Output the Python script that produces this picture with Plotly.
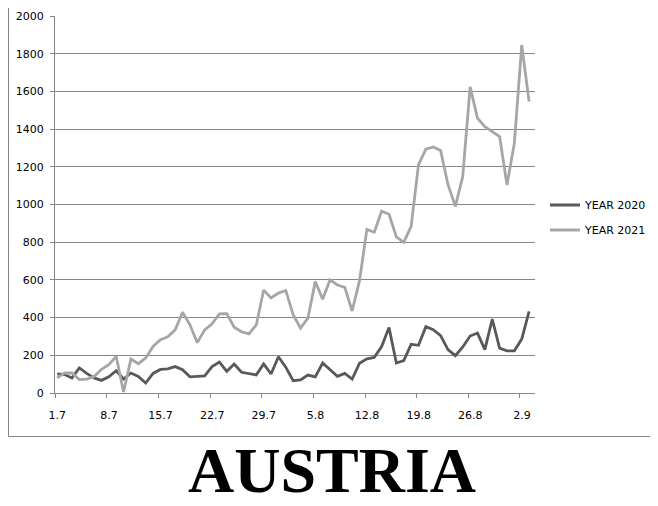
import plotly.graph_objects as go

dates = ["1.7","2.7","3.7","4.7","5.7","6.7","7.7","8.7","9.7","10.7","11.7","12.7","13.7","14.7","15.7","16.7",
         "17.7","18.7","19.7","20.7","21.7","22.7","23.7","24.7","25.7","26.7","27.7","28.7","29.7","30.7","31.7",
         "1.8","2.8","3.8","4.8","5.8","6.8","7.8","8.8","9.8","10.8","11.8","12.8","13.8","14.8","15.8","16.8",
         "17.8","18.8","19.8","20.8","21.8","22.8","23.8","24.8","25.8","26.8","27.8","28.8","29.8","30.8","31.8",
         "1.9","2.9","3.9"]

year_2020 = [101, 98, 80, 133, 104, 80, 67, 86, 118, 74, 106, 88, 53, 104, 125, 128, 140, 124, 86, 87, 91, 140,
             164, 115, 154, 110, 101, 96, 154, 101, 192, 137, 65, 69, 95, 85, 159, 124, 88, 104, 74, 158, 181, 189,
             246, 347, 159, 172, 258, 253, 352, 336, 304, 230, 198, 244, 302, 318, 230, 392, 238, 224, 224, 286, 433]

year_2021 = [80, 106, 106, 71, 74, 88, 125, 150, 194, 5, 180, 155, 186, 247, 283, 298, 335, 428, 362, 267, 335,
             367, 420, 421, 349, 325, 314, 361, 546, 504, 530, 544, 415, 344, 397, 591, 498, 600, 573, 560, 435,
             596, 868, 853, 965, 948, 828, 799, 884, 1211, 1294, 1305, 1287, 1105, 990, 1149, 1624, 1458, 1413,
             1387, 1360, 1104, 1325, 1846, 1546]

tick_labels = ["1.7", "8.7", "15.7", "22.7", "29.7", "5.8", "12.8", "19.8", "26.8", "2.9"]
series_names = ["YEAR 2020", "YEAR 2021"]
title_text = "AUSTRIA"

idx = list(range(len(dates)))
tick_pos = [dates.index(t) - 0.25 for t in tick_labels]

fig = go.Figure()
fig.add_trace(go.Scatter(x=idx, y=year_2020, mode="lines", name=series_names[0], legendgroup="a",
                         line=dict(color="#595959", width=2.8), text=dates, hoverinfo="text+y"))
fig.add_trace(go.Scatter(x=idx, y=year_2021, mode="lines", name=series_names[1], legendgroup="b",
                         line=dict(color="#A6A6A6", width=2.8), text=dates, hoverinfo="text+y"))

grid = "#868686"

# page coordinates (window pixels) -> paper coordinates of the plot area
PL, PW, PB, PH = 55.0, 480.0, 393.0, 377.0
def px(x):
    return (x - PL) / PW
def py(y):
    return (PB - y) / PH

border_left, border_right, border_bottom, border_top = 8.5, 654.5, 436.5, 8.0

fig.update_layout(
    width=650, height=498,
    margin=dict(l=47, r=123, t=8, b=113, autoexpand=False),
    paper_bgcolor="white", plot_bgcolor="white",
    font=dict(family="DejaVu Sans", size=11, color="black"),
    showlegend=True,
    legend=dict(x=px(545), xanchor="left", y=py(217.5), yanchor="middle",
                font=dict(family="DejaVu Sans", size=11, color="black"),
                bgcolor="rgba(0,0,0,0)", traceorder="grouped", tracegroupgap=6, itemwidth=30),
    xaxis=dict(range=[-0.3, 64.8], tickmode="array", tickvals=tick_pos, ticktext=tick_labels,
               showgrid=False, zeroline=False, showline=True, linecolor=grid, linewidth=1,
               ticks="outside", ticklen=4, tickcolor=grid, ticklabelshift=2, ticklabelstandoff=8,
               fixedrange=True, automargin=False),
    yaxis=dict(range=[0, 2000], dtick=200, tick0=0, showgrid=True, gridcolor=grid, gridwidth=1,
               zeroline=False, showline=True, linecolor=grid, linewidth=1,
               ticks="outside", ticklen=4, tickcolor=grid, ticklabelstandoff=4, fixedrange=True,
               automargin=False),
    shapes=[
        dict(type="line", xref="paper", yref="paper", x0=px(border_left), x1=px(border_left),
             y0=py(border_top), y1=py(border_bottom), line=dict(color=grid, width=1)),
        dict(type="line", xref="paper", yref="paper", x0=px(border_left), x1=px(border_right),
             y0=py(border_bottom), y1=py(border_bottom), line=dict(color=grid, width=1)),
        dict(type="line", xref="paper", yref="paper", x0=px(border_right), x1=px(border_right),
             y0=py(border_top), y1=py(border_bottom), line=dict(color=grid, width=1)),
    ],
    annotations=[dict(text="<b>" + title_text + "</b>", xref="paper", yref="paper",
                      x=px(331.5), y=py(470), xanchor="center", yanchor="middle",
                      showarrow=False, font=dict(family="Liberation Serif", size=64, color="black"))],
)

fig.write_html("out.html")
